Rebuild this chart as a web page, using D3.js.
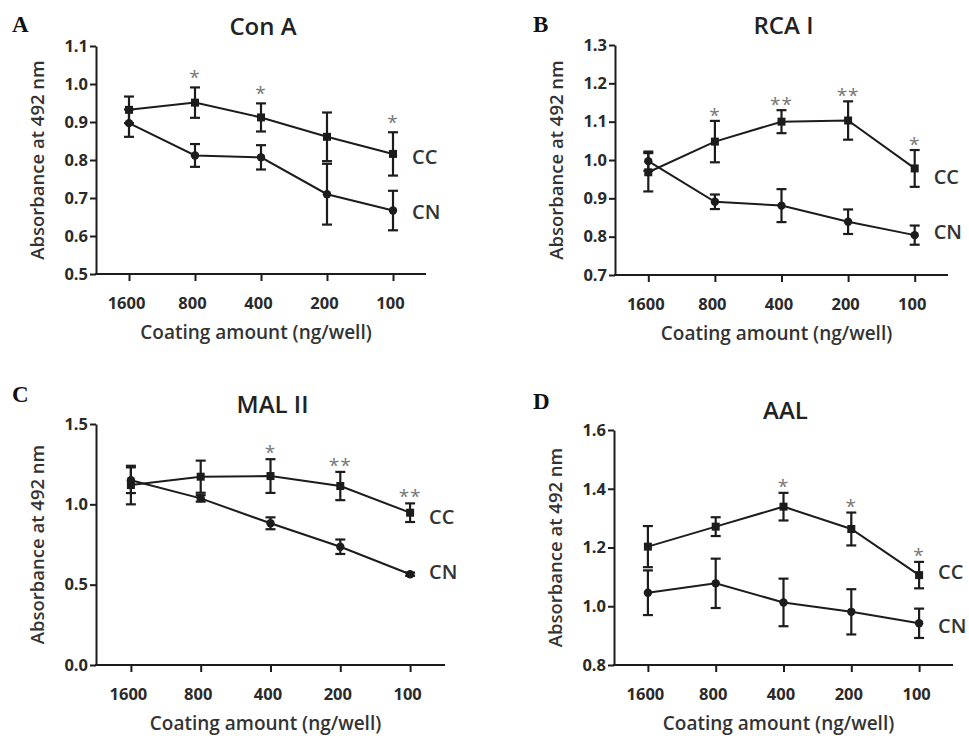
<!DOCTYPE html>
<html>
<head>
<meta charset="utf-8">
<script src="https://cdn.jsdelivr.net/npm/d3@7"></script>
<style>
  body { margin: 0; background: #fff; }
  text { font-family: "Open Sans", "Noto Sans", sans-serif; fill: #222; }
  .letter { font-family: "Liberation Serif", "DejaVu Serif", serif; font-weight: bold; font-size: 23px; fill: #111; }
  .title { font-size: 24px; font-weight: 600; }
  .axtitle { font-size: 19px; font-weight: 600; fill: #333; }
  .ytitle { font-size: 18.5px; font-weight: 600; fill: #333; }
  .grp { font-size: 20px; font-weight: 600; fill: #333; }
  .star { font-size: 19px; fill: #777; }
</style>
</head>
<body>
<script>
// x categories (coating amount, ng/well)
var doses = ["1600", "800", "400", "200", "100"];

// Con A
var conA_CC = [0.932, 0.951, 0.912, 0.861, 0.816];
var conA_CC_err = [0.035, 0.040, 0.037, 0.064, 0.057];
var conA_CN = [0.897, 0.812, 0.807, 0.710, 0.667];
var conA_CN_err = [0.036, 0.030, 0.032, 0.080, 0.052];
var conA_sig = ["", "*", "*", "", "*"];
var conA_ticks = [0.5, 0.6, 0.7, 0.8, 0.9, 1.0, 1.1];

// RCA I
var rca_CC = [0.968, 1.048, 1.100, 1.103, 0.978];
var rca_CC_err = [0.050, 0.054, 0.030, 0.050, 0.048];
var rca_CN = [0.997, 0.891, 0.881, 0.839, 0.804];
var rca_CN_err = [0.025, 0.019, 0.043, 0.032, 0.025];
var rca_sig = ["", "*", "**", "**", "*"];
var rca_ticks = [0.7, 0.8, 0.9, 1.0, 1.1, 1.2, 1.3];

// MAL II
var mal_CC = [1.120, 1.172, 1.176, 1.114, 0.948];
var mal_CC_err = [0.120, 0.100, 0.105, 0.088, 0.058];
var mal_CN = [1.150, 1.037, 0.882, 0.736, 0.565];
var mal_CN_err = [0.080, 0.020, 0.037, 0.045, 0.010];
var mal_sig = ["", "", "*", "**", "**"];
var mal_ticks = [0.0, 0.5, 1.0, 1.5];

// AAL
var aal_CC = [1.203, 1.271, 1.339, 1.263, 1.106];
var aal_CC_err = [0.070, 0.032, 0.047, 0.056, 0.045];
var aal_CN = [1.046, 1.078, 1.013, 0.981, 0.942];
var aal_CN_err = [0.076, 0.084, 0.081, 0.077, 0.050];
var aal_sig = ["", "", "*", "*", "*"];
var aal_ticks = [0.8, 1.0, 1.2, 1.4, 1.6];

var svg = d3.select("body").append("svg")
    .attr("width", 969)
    .attr("height", 736);

var ink = "#1c1c1c";

// layout of each panel in pixels
var panels = [
  {letter: "A", title: "Con A", x0: 96, x1: 426, top: 46, bottom: 274, lx: 12, ly: 32,
   cc: conA_CC, ccErr: conA_CC_err, cn: conA_CN, cnErr: conA_CN_err, sig: conA_sig,
   ticks: conA_ticks, ccDy: 3, cnDy: 1, starGap: 12},
  {letter: "B", title: "RCA I", x0: 615, x1: 948, top: 45, bottom: 275, lx: 533, ly: 32,
   cc: rca_CC, ccErr: rca_CC_err, cn: rca_CN, cnErr: rca_CN_err, sig: rca_sig,
   ticks: rca_ticks, ccDy: 9, cnDy: -3, starGap: 8},
  {letter: "C", title: "MAL II", x0: 96, x1: 445, top: 424, bottom: 665, lx: 12, ly: 402,
   cc: mal_CC, ccErr: mal_CC_err, cn: mal_CN, cnErr: mal_CN_err, sig: mal_sig,
   ticks: mal_ticks, ccDy: 4, cnDy: -2, starGap: 9},
  {letter: "D", title: "AAL", x0: 614, x1: 953, top: 430, bottom: 665, lx: 533, ly: 409,
   cc: aal_CC, ccErr: aal_CC_err, cn: aal_CN, cnErr: aal_CN_err, sig: aal_sig,
   ticks: aal_ticks, ccDy: -3, cnDy: 3, starGap: 9}
];

panels.forEach(drawPanel);

function styleTicks(ax) {
  ax.attr("font-size", null).attr("font-family", null);
  ax.selectAll(".tick text")
      .style("font-family", "'Open Sans', 'Noto Sans', sans-serif")
      .style("font-size", "16.5px")
      .style("font-weight", "700")
      .style("fill", "#2a2a2a");
}

function drawPanel(p) {
  var g = svg.append("g");

  var x = d3.scalePoint()
      .domain(doses)
      .range([p.x0, p.x1])
      .padding(0.5);

  var y = d3.scaleLinear()
      .domain([p.ticks[0], p.ticks[p.ticks.length - 1]])
      .range([p.bottom, p.top]);

  // y axis
  var yAxis = g.append("g")
      .attr("transform", "translate(" + p.x0 + ",0)")
      .call(d3.axisLeft(y).tickValues(p.ticks).tickFormat(d3.format(".1f"))
        .tickSize(6).tickSizeOuter(0).tickPadding(2));
  yAxis.select(".domain").attr("stroke", ink).attr("stroke-width", 2);
  yAxis.selectAll(".tick line").attr("stroke", ink).attr("stroke-width", 2);
  styleTicks(yAxis);

  // x axis
  var xAxis = g.append("g")
      .attr("transform", "translate(0," + p.bottom + ")")
      .call(d3.axisBottom(x).tickSize(7).tickSizeOuter(0).tickPadding(16));
  xAxis.select(".domain").attr("stroke", ink).attr("stroke-width", 2)
      .attr("d", "M" + (p.x0 - 1) + ",0H" + p.x1);
  xAxis.selectAll(".tick line").attr("stroke", ink).attr("stroke-width", 2);
  xAxis.selectAll(".tick text").attr("dx", -3);
  styleTicks(xAxis);

  // titles
  var mid = (p.x0 + p.x1) / 2;
  g.append("text").attr("class", "letter")
      .attr("x", p.lx).attr("y", p.ly).text(p.letter);
  g.append("text").attr("class", "title")
      .attr("x", mid + 2).attr("y", p.top - 11)
      .attr("text-anchor", "middle").text(p.title);
  g.append("text").attr("class", "axtitle")
      .attr("x", mid - 5).attr("y", p.bottom + 65)
      .attr("text-anchor", "middle").text("Coating amount (ng/well)");
  g.append("text").attr("class", "ytitle")
      .attr("transform", "translate(" + (p.x0 - 52) + "," + ((p.top + p.bottom) / 2) + ") rotate(-90)")
      .attr("text-anchor", "middle").text("Absorbance at 492 nm");

  var series = [
    {vals: p.cc, err: p.ccErr, shape: "square"},
    {vals: p.cn, err: p.cnErr, shape: "circle"}
  ];

  var line = d3.line()
      .x(function(d, i) { return x(doses[i]); })
      .y(function(d) { return y(d); });

  series.forEach(function(s) {
    var sg = g.append("g");
    sg.append("path")
        .attr("d", line(s.vals))
        .attr("fill", "none")
        .attr("stroke", ink)
        .attr("stroke-width", 2);

    var eb = sg.selectAll(".eb").data(s.vals).enter().append("g");
    eb.append("line")
        .attr("x1", function(d, i) { return x(doses[i]); })
        .attr("x2", function(d, i) { return x(doses[i]); })
        .attr("y1", function(d, i) { return y(d + s.err[i]); })
        .attr("y2", function(d, i) { return y(d - s.err[i]); })
        .attr("stroke", ink).attr("stroke-width", 2.2);
    [1, -1].forEach(function(sign) {
      eb.append("line")
          .attr("x1", function(d, i) { return x(doses[i]) - 5; })
          .attr("x2", function(d, i) { return x(doses[i]) + 5; })
          .attr("y1", function(d, i) { return y(d + sign * s.err[i]); })
          .attr("y2", function(d, i) { return y(d + sign * s.err[i]); })
          .attr("stroke", ink).attr("stroke-width", 2.2);
    });

    if (s.shape == "square") {
      sg.selectAll(".pt").data(s.vals).enter().append("rect")
          .attr("x", function(d, i) { return x(doses[i]) - 4; })
          .attr("y", function(d) { return y(d) - 4; })
          .attr("width", 8).attr("height", 8)
          .attr("fill", ink);
    } else {
      sg.selectAll(".pt").data(s.vals).enter().append("circle")
          .attr("cx", function(d, i) { return x(doses[i]); })
          .attr("cy", function(d) { return y(d); })
          .attr("r", 4.2)
          .attr("fill", ink);
    }
  });

  // significance marks above CC error bars
  g.selectAll(".star").data(p.sig).enter().append("text")
      .attr("class", "star")
      .attr("x", function(d, i) { return x(doses[i]); })
      .attr("y", function(d, i) { return y(p.cc[i] + p.ccErr[i]) - p.starGap + 9; })
      .attr("text-anchor", "middle")
      .attr("letter-spacing", "1px")
      .text(function(d) { return d; });

  // group labels
  var last = doses[doses.length - 1];
  g.append("text").attr("class", "grp")
      .attr("x", x(last) + 19)
      .attr("y", y(p.cc[p.cc.length - 1]) + p.ccDy + 7)
      .text("CC");
  g.append("text").attr("class", "grp")
      .attr("x", x(last) + 19)
      .attr("y", y(p.cn[p.cn.length - 1]) + p.cnDy + 7)
      .text("CN");
}
</script>
</body>
</html>
